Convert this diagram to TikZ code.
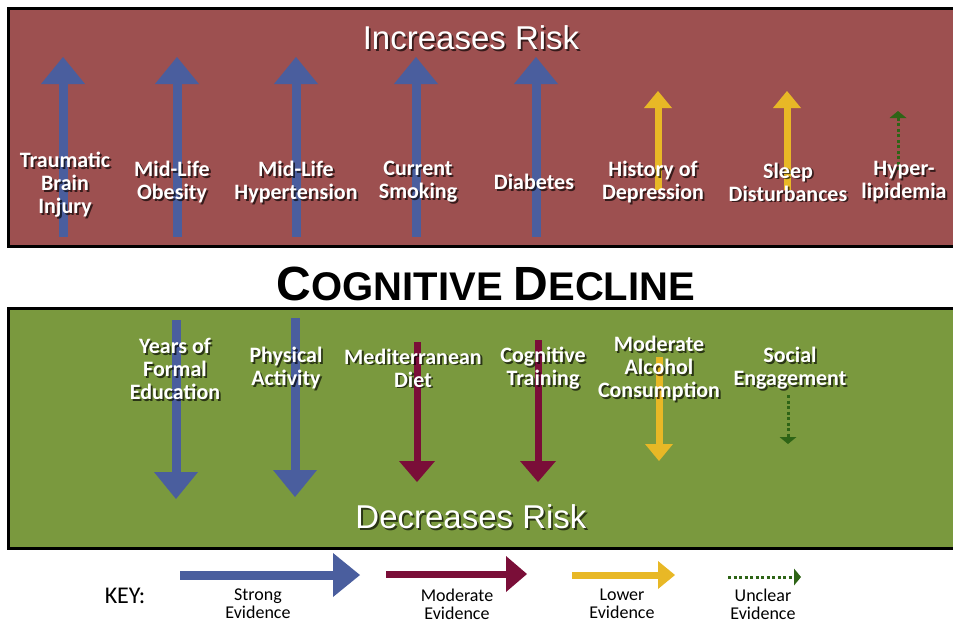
\documentclass[tikz,border=0pt]{standalone}
\usepackage{fontspec}
\setmainfont{Liberation Sans}
\newfontfamily\labfont{Carlito}
\usetikzlibrary{arrows.meta}
\usetikzlibrary{positioning}

\definecolor{riskred}{RGB}{157,80,80}
\definecolor{protgreen}{RGB}{122,153,62}
\definecolor{strongblue}{RGB}{74,94,158}
\definecolor{modmaroon}{RGB}{122,14,56}
\definecolor{lowyellow}{RGB}{232,184,38}
\definecolor{unclgreen}{RGB}{46,100,22}

% white label with a dark drop shadow
\newcommand\shlabel[4][lbl]{%
  \node[#1,text=black,text opacity=.65,xshift=1.8pt,yshift=-1.8pt] at (#3) {#4};
  \node[#1] (#2) at (#3) {#4};}

\begin{document}
\begin{tikzpicture}[x=1pt,y=-1pt,
  lbl/.style={text=white,inner sep=0pt,align=center,font=\labfont\bfseries\fontsize{22}{23}\selectfont},
  headlbl/.style={text=white,inner sep=0pt,font=\fontsize{33}{33}\selectfont},
  keylbl/.style={inner sep=0pt,align=center,font=\labfont\fontsize{18}{18}\selectfont},
  strongarr/.style={draw=strongblue,line width=9pt,-{Triangle[length=27pt,width=44pt,line width=0pt]}},
  modarr/.style={draw=modmaroon,line width=7pt,-{Triangle[length=21pt,width=36pt,line width=0pt]}},
  lowarr/.style={draw=lowyellow,line width=7pt,-{Triangle[length=17pt,width=28pt,line width=0pt]}},
  unclarr/.style={draw=unclgreen,line width=3pt,dash pattern=on 3pt off 2.5pt,-{Triangle[length=7pt,width=17pt,line width=0pt]}}]
\useasboundingbox (0,0) rectangle (953,624);

\draw[line width=3pt,fill=riskred] (8,8) rectangle (964,246);
\draw[line width=3pt,fill=protgreen] (8,308) rectangle (964,548);

\foreach \n/\x/\a/\b/\s in {tbi/63/237/57/strongarr, obes/177/237/57/strongarr,
  hyp/296/237/57/strongarr, smok/416/237/57/strongarr, diab/536/237/57/strongarr,
  dep/658/190/91/lowarr, sleep/787/190/91/lowarr, lipid/898/170/111/unclarr,
  edu/176/320/499/strongarr, phys/295/318/497/strongarr, diet/417/342/482/modarr,
  train/538/340/482/modarr, alc/659/357/461/lowarr, soc/788/395/444/unclarr} {
  \coordinate (\n-a) at (\x,\a);
  \coordinate (\n-b) at (\x,\b);
  \draw[\s] (\n-a) -- (\n-b);
}

\shlabel[headlbl]{inc}{471,38}{Increases Risk}
\shlabel{tbi}{65,185}{Traumatic\\Brain\\Injury}
\shlabel{obes}{172,182}{Mid-Life\\Obesity}
\shlabel{hyp}{296,182}{Mid-Life\\Hypertension}
\shlabel{smok}{418,182}{Current\\Smoking}
\shlabel{diab}{534,182}{Diabetes}
\shlabel{dep}{653,182}{History of\\Depression}
\shlabel{sleep}{788,182}{Sleep\\Disturbances}
\shlabel{lipid}{904,182}{Hyper-\\lipidemia}

\node[font=\bfseries,inner sep=0pt] (cog) at (486,284) {{\fontsize{48}{48}\selectfont C}{\fontsize{40}{40}\selectfont OGNITIVE}\hspace{11pt}{\fontsize{48}{48}\selectfont D}{\fontsize{40}{40}\selectfont ECLINE}};

\shlabel{edu}{175,369}{Years of\\Formal\\Education}
\shlabel{phys}{286,368}{Physical\\Activity}
\shlabel{diet}{413,368}{Mediterranean\\Diet}
\shlabel{train}{543,368}{Cognitive\\Training}
\shlabel{alc}{659,369}{Moderate\\Alcohol\\Consumption}
\shlabel{soc}{790,368}{Social\\Engagement}
\shlabel[headlbl]{dec}{471,517}{Decreases Risk}

\node[keylbl,font=\labfont\fontsize{24}{24}\selectfont] (key) at (125,596) {KEY:};
\coordinate (ks-a) at (180,575); \coordinate (ks-b) at (360,575);
\coordinate (km-a) at (386,574); \coordinate (km-b) at (527,574);
\coordinate (kl-a) at (572,575); \coordinate (kl-b) at (675,575);
\coordinate (ku-a) at (728,577); \coordinate (ku-b) at (801,577);
\draw[strongarr] (ks-a) -- (ks-b);
\draw[modarr] (km-a) -- (km-b);
\draw[lowarr] (kl-a) -- (kl-b);
\draw[unclarr] (ku-a) -- (ku-b);
\node[keylbl] (kstrong) at (258,604) {Strong\\Evidence};
\node[keylbl] (kmod) at (457,604) {Moderate\\Evidence};
\node[keylbl] (klow) at (622,604) {Lower\\Evidence};
\node[keylbl] (kuncl) at (763,604) {Unclear\\Evidence};
\end{tikzpicture}
\end{document}
